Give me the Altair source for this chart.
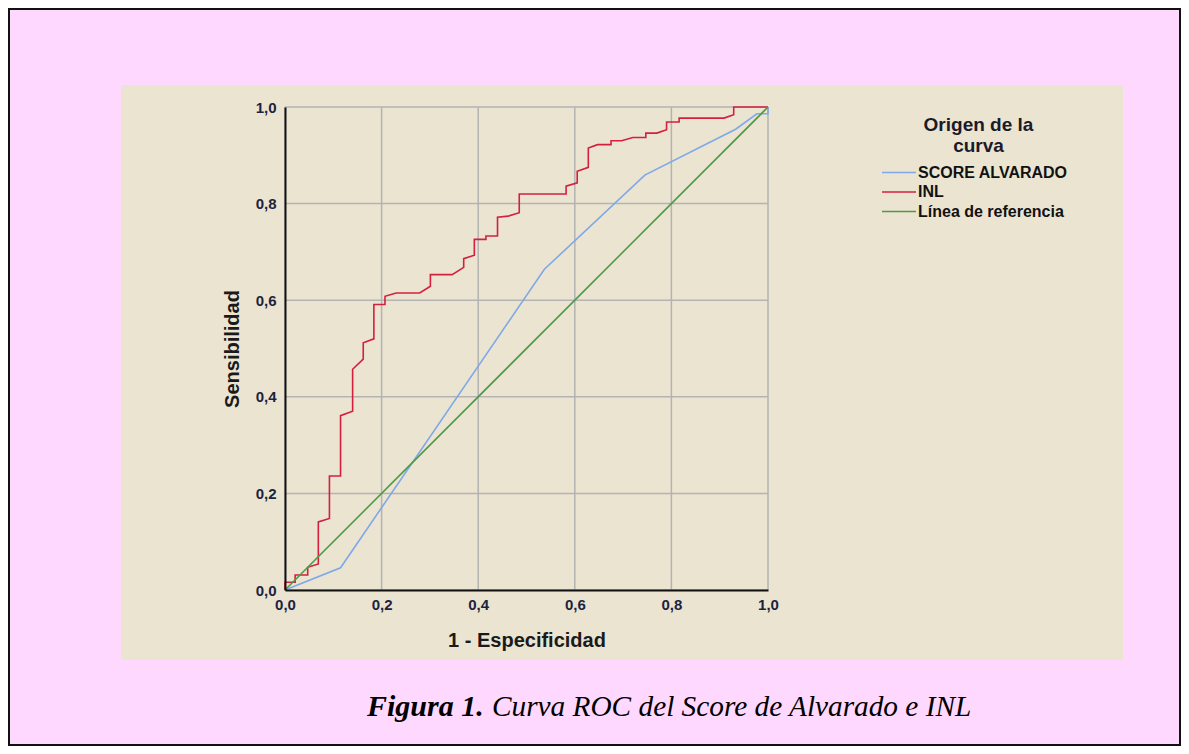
import altair as alt
import pandas as pd

# ---------------- data ----------------
SERIES = ["SCORE ALVARADO", "INL", "Línea de referencia"]
COLORS = ["#7ea8e8", "#d4203e", "#4b9c42"]

ALV_FPR = [0.0, 0.115, 0.537, 0.745, 0.933, 0.977, 1.0, 1.0]
ALV_TPR = [0.0, 0.046, 0.664, 0.859, 0.954, 0.986, 0.986, 1.0]

INL_FPR = [0.0, 0.0, 0.021, 0.021, 0.047, 0.047, 0.069, 0.069, 0.092, 0.092,
           0.115, 0.115, 0.140, 0.140, 0.162, 0.162, 0.184, 0.184, 0.207, 0.207,
           0.230, 0.279, 0.301, 0.301, 0.346, 0.370, 0.370, 0.392, 0.392, 0.416,
           0.416, 0.440, 0.440, 0.462, 0.485, 0.485, 0.582, 0.582, 0.605, 0.605,
           0.628, 0.628, 0.647, 0.675, 0.675, 0.697, 0.720, 0.747, 0.747, 0.770,
           0.790, 0.790, 0.816, 0.816, 0.909, 0.929, 0.929, 1.0]
INL_TPR = [0.0, 0.016, 0.016, 0.031, 0.031, 0.047, 0.054, 0.141, 0.148, 0.236,
           0.236, 0.361, 0.370, 0.457, 0.478, 0.512, 0.520, 0.591, 0.591, 0.608,
           0.615, 0.615, 0.629, 0.653, 0.653, 0.668, 0.686, 0.693, 0.726, 0.726,
           0.733, 0.733, 0.772, 0.774, 0.781, 0.820, 0.820, 0.836, 0.843, 0.867,
           0.875, 0.915, 0.922, 0.922, 0.930, 0.930, 0.937, 0.937, 0.946, 0.946,
           0.953, 0.969, 0.969, 0.977, 0.977, 0.984, 1.0, 1.0]

REF_FPR = [0.0, 1.0]
REF_TPR = [0.0, 1.0]

TICKS = [0.0, 0.2, 0.4, 0.6, 0.8, 1.0]

X_TITLE = "1 - Especificidad"
Y_TITLE = "Sensibilidad"
LEGEND_TITLE = ["Origen de la", "curva"]
CAPTION_BOLD = "Figura 1."
CAPTION_TEXT = "Curva ROC del Score de Alvarado e INL"

rows = []
for name, xs, ys in zip(SERIES, [ALV_FPR, INL_FPR, REF_FPR], [ALV_TPR, INL_TPR, REF_TPR]):
    for i, (a, b) in enumerate(zip(xs, ys)):
        rows.append({"serie": name, "fpr": a, "tpr": b, "orden": i})
df = pd.DataFrame(rows)
ticks_df = pd.DataFrame({"fpr": TICKS, "tpr": TICKS})
one = pd.DataFrame({"k": [0]})

# ---------------- layout (page pixels) ----------------
W, H = 483, 483
OX, OY = 285, 107          # page position of plot origin
CW, CH = 1173, 738         # canvas size


def px(x):
    return x - OX


def py(y):
    return y - OY


FONT = "Liberation Sans"

frame = alt.Chart(one).mark_rect(filled=False, stroke="#111111", strokeWidth=2).encode(
    x=alt.value(px(9)), x2=alt.value(px(1180)), y=alt.value(py(9)), y2=alt.value(py(745))
)

panel = alt.Chart(one).mark_rect(fill="#ebe4d1").encode(
    x=alt.value(px(121)), x2=alt.value(px(1123)), y=alt.value(py(85)), y2=alt.value(py(660))
)

xscale = alt.Scale(domain=[0, 1], nice=False, zero=False)
yscale = alt.Scale(domain=[0, 1], nice=False, zero=False)

label_expr = "replace(format(datum.value, '.1f'), '.', ',')"
xaxis = alt.Axis(values=TICKS, title=X_TITLE, labelExpr=label_expr, grid=False, labelFlush=False,
                 labelPadding=7, titlePadding=18, zindex=1)
yaxis = alt.Axis(values=TICKS, title=Y_TITLE, labelExpr=label_expr, grid=False, labelFlush=False,
                 labelPadding=9, titlePadding=13, zindex=1)

vgrid = alt.Chart(ticks_df).mark_rule(color="#b3b3b3", strokeWidth=1.5).encode(
    x=alt.X("fpr:Q", scale=xscale, axis=xaxis)
)
hgrid = alt.Chart(ticks_df).mark_rule(color="#b3b3b3", strokeWidth=1.5).encode(
    y=alt.Y("tpr:Q", scale=yscale, axis=yaxis)
)

lines = alt.Chart(df).mark_line(strokeWidth=1.6, clip=False).encode(
    x=alt.X("fpr:Q", scale=xscale, axis=xaxis),
    y=alt.Y("tpr:Q", scale=yscale, axis=yaxis),
    color=alt.Color("serie:N", scale=alt.Scale(domain=SERIES, range=COLORS),
                    legend=alt.Legend(title=LEGEND_TITLE, orient="none", legendX=604.5, legendY=9,
                                      titleAnchor="middle", titleAlign="center",
                                      titleFontSize=19, titleFont=FONT, titleFontWeight="bold",
                                      titleColor="#1a1a2a", titleLineHeight=21, titlePadding=7,
                                      labelFont=FONT, labelFontSize=16, labelFontWeight="bold",
                                      labelColor="#111111", labelOffset=9.5,
                                      symbolType="M-2,0H2", symbolSize=289, symbolStrokeWidth=1.6,
                                      symbolFillColor="transparent",
                                      rowPadding=1.5, padding=0)),
    order="orden:Q",
    detail="serie:N",
)

cap1 = alt.Chart(one).mark_text(
    text=CAPTION_BOLD, font="Liberation Serif", fontSize=30, fontStyle="italic",
    fontWeight="bold", align="left", baseline="alphabetic", color="#000000"
).encode(x=alt.value(px(367)), y=alt.value(py(716)))

cap2 = alt.Chart(one).mark_text(
    text=CAPTION_TEXT, font="Liberation Serif", fontSize=29.3, fontStyle="italic",
    fontWeight="normal", align="left", baseline="alphabetic", color="#000000"
).encode(x=alt.value(px(492)), y=alt.value(py(716)))

chart = alt.layer(frame, panel, vgrid, hgrid, lines, cap1, cap2).properties(
    width=W, height=H,
    autosize=alt.AutoSizeParams(type="none"),
    padding={"left": OX - 8, "top": OY - 8, "right": CW - (OX - 8) - W, "bottom": CH - (OY - 8) - H},
    background="#fed8fe",
).configure_view(strokeWidth=0).configure_axis(
    labelFont=FONT, labelFontSize=15, labelFontWeight="bold", labelColor="#1c2340",
    titleFont=FONT, titleFontSize=20, titleFontWeight="bold", titleColor="#1a1a1a",
    tickSize=0, domainColor="#111111", domainWidth=2,
)

chart.save("out.html", embed_options={"renderer": "svg", "actions": False})
